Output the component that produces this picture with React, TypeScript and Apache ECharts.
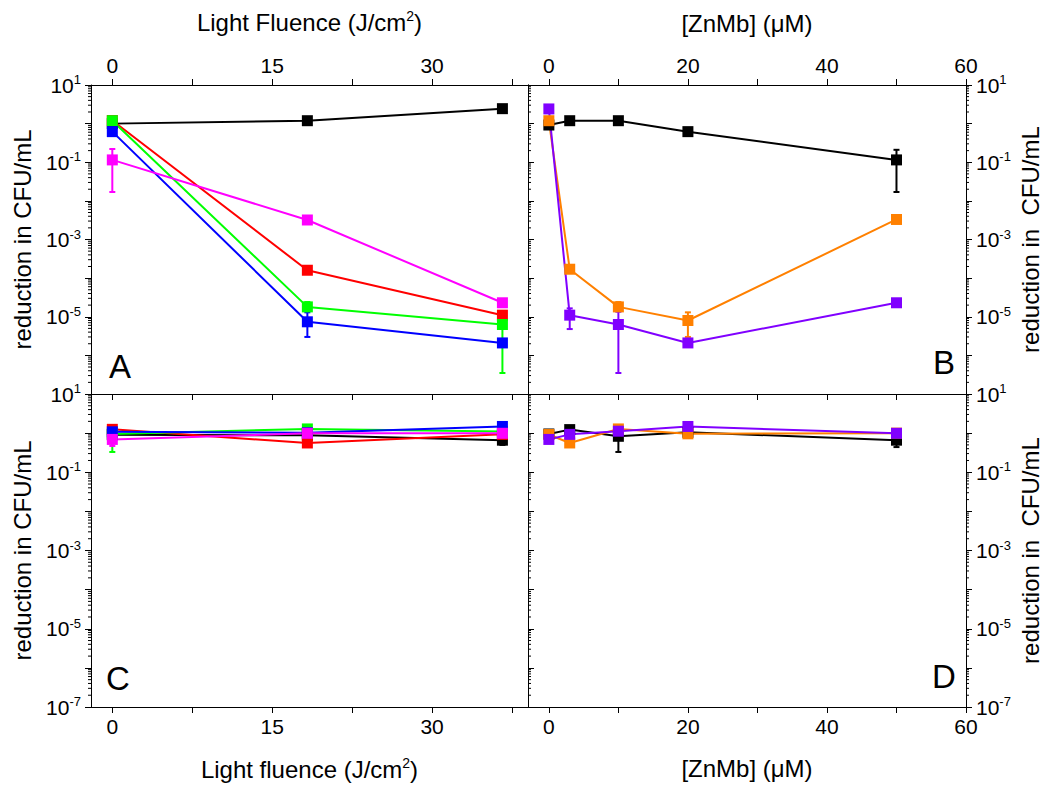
import React, { useEffect, useRef } from "react";
import * as echarts from "echarts";

const FONT = "'Liberation Sans', Arial, sans-serif";

// ---- x values / ticks ----
const fluence = [0, 18.3, 36.6];
const fluenceTicks = [0, 7.5, 15, 22.5, 30, 37.5];
const fluenceLabels = [0, 15, 30];
const conc = [0, 3, 10, 20, 50];
const concTicks = [0, 10, 20, 30, 40, 50, 60];
const concLabels = [0, 20, 40, 60];

// ---- Panel A (light fluence, with PS) ----
const aBlack = [1.0, 1.19, 2.44];
const aRed = [1.2, 1.6e-4, 1.1e-5];
const aGreen = [1.19, 1.8e-5, 6.3e-6];
const aBlue = [0.62, 7.4e-6, 2.1e-6];
const aMagenta = [0.115, 3.2e-3, 2.3e-5];
const aMagentaErr = [[0, 0.017, 0.22]];
const aGreenErr = [[18.3, 1.4e-5, 2.4e-5], [36.6, 3.5e-7, 1.3e-5]];
const aBlueErr = [[18.3, 3e-6, 1.3e-5]];

// ---- Panel B ([ZnMb], light) ----
const bBlack = [0.92, 1.19, 1.19, 0.62, 0.115];
const bOrange = [1.19, 1.7e-4, 1.8e-5, 8e-6, 3.3e-3];
const bPurple = [2.4, 1.1e-5, 6.3e-6, 2.1e-6, 2.3e-5];
const bBlackErr = [[0, 0.75, 1.1], [50, 0.017, 0.21]];
const bOrangeErr = [[10, 1.4e-5, 2.4e-5], [20, 3e-6, 1.3e-5]];
const bPurpleErr = [[3, 4.8e-6, 1.65e-5], [10, 3.5e-7, 1.35e-5]];

// ---- Panel C (dark controls) ----
const cBlack = [0.91, 0.88, 0.66];
const cRed = [1.25, 0.56, 0.93];
const cGreen = [0.95, 1.28, 1.1];
const cBlue = [1.08, 1.02, 1.48];
const cMagenta = [0.69, 0.99, 0.99];
const cBlackErr = [[36.6, 0.5, 0.8]];
const cGreenErr = [[0, 0.33, 1.2]];
const cMagentaErr = [[0, 0.47, 0.9]];

// ---- Panel D (dark controls) ----
const dBlack = [0.95, 1.23, 0.83, 1.05, 0.66];
const dOrange = [0.92, 0.56, 1.28, 0.96, 1.0];
const dPurple = [0.69, 0.93, 1.12, 1.48, 0.99];
const dBlackErr = [[10, 0.33, 1.0], [50, 0.44, 0.8]];

const BLACK = "#000000";
const RED = "#ff0000";
const GREEN = "#00ff00";
const BLUE = "#0000ff";
const MAGENTA = "#ff00ff";
const ORANGE = "#ff8000";
const PURPLE = "#8000ff";

const minorVals: number[] = [];
for (let e = -7; e <= 0; e++) {
  for (let m = 2; m <= 9; m++) minorVals.push(m * Math.pow(10, e));
}

const grids = [
  { left: 91, top: 85, width: 437, height: 309 },
  { left: 528, top: 85, width: 438, height: 309 },
  { left: 91, top: 394, width: 437, height: 313 },
  { left: 528, top: 394, width: 438, height: 313 },
];

const xRanges = [
  [-2, 39],
  [-3, 60],
  [-2, 39],
  [-3, 60],
];

const LABEL_SIZE = 21;
const NAME_SIZE = 24;

const supRich = {
  s: { fontSize: 14, fontFamily: FONT, color: "#000", padding: [0, 0, 12, 0] },
};

function xAxis(
  gridIndex: number,
  position: string,
  kind: "fl" | "zn",
  mode: "full" | "ticks" | "line",
  name?: string,
  nameGap?: number
) {
  const [min, max] = xRanges[gridIndex];
  return {
    type: "value",
    gridIndex,
    position,
    min,
    max,
    axisLine: { show: true, onZero: false, lineStyle: { color: "#000", width: 1 } },
    axisTick: {
      show: mode !== "line",
      inside: false,
      length: 6,
      customValues: kind === "fl" ? fluenceTicks : concTicks,
      lineStyle: { color: "#000", width: 1 },
    },
    axisLabel: {
      show: mode === "full",
      customValues: kind === "fl" ? fluenceLabels : concLabels,
      fontSize: LABEL_SIZE,
      fontFamily: FONT,
      color: "#000",
      margin: 9,
    },
    splitLine: { show: false },
    name: name || "",
    nameLocation: "middle",
    nameGap: nameGap || 0,
    nameTextStyle: { fontSize: NAME_SIZE, fontFamily: FONT, color: "#000", rich: supRich },
  };
}

function yAxis(
  gridIndex: number,
  position: string,
  mode: "full" | "ticks" | "line",
  hideBottom: boolean,
  name?: string,
  nameGap?: number
) {
  return {
    type: "log",
    logBase: 10,
    gridIndex,
    position,
    min: 1e-7,
    max: 10,
    splitNumber: 8,
    axisLine: { show: true, onZero: false, lineStyle: { color: "#000", width: 1 } },
    axisTick: { show: mode !== "line", inside: false, length: 6, lineStyle: { color: "#000", width: 1 } },
    axisLabel: {
      show: mode === "full",
      margin: 10,
      fontSize: LABEL_SIZE,
      fontFamily: FONT,
      color: "#000",
      formatter: (v: number) => {
        const e = Math.round(Math.log10(v));
        if (e % 2 === 0) return "";
        if (hideBottom && e === -7) return "";
        return `{b|10}{s|${e}}`;
      },
      rich: {
        b: { fontSize: LABEL_SIZE, fontFamily: FONT, color: "#000" },
        s: { fontSize: 13, fontFamily: FONT, color: "#000", padding: [0, 0, 11, 0] },
      },
    },
    splitLine: { show: false },
    name: name || "",
    nameLocation: "middle",
    nameRotate: 90,
    nameGap: nameGap || 0,
    nameTextStyle: { fontSize: NAME_SIZE, fontFamily: FONT, color: "#000" },
  };
}

function lineSeries(xs: number[], ys: number[], color: string, xi: number, yi: number) {
  return {
    type: "line",
    xAxisIndex: xi,
    yAxisIndex: yi,
    data: xs.map((x, i) => [x, ys[i]]),
    symbol: "rect",
    symbolSize: 11,
    itemStyle: { color },
    lineStyle: { color, width: 2 },
    silent: true,
    z: 3,
  };
}

function errSeries(err: number[][], color: string, xi: number, yi: number) {
  return {
    type: "custom",
    xAxisIndex: xi,
    yAxisIndex: yi,
    data: err,
    encode: { x: 0, y: [1, 2] },
    silent: true,
    z: 3,
    renderItem: (_p: any, api: any) => {
      const x = api.value(0);
      const lo = api.coord([x, api.value(1)]);
      const hi = api.coord([x, api.value(2)]);
      const w = 3;
      const st = { stroke: color, lineWidth: 2 };
      return {
        type: "group",
        children: [
          { type: "line", shape: { x1: lo[0], y1: lo[1], x2: hi[0], y2: hi[1] }, style: st },
          { type: "line", shape: { x1: lo[0] - w, y1: lo[1], x2: lo[0] + w, y2: lo[1] }, style: st },
          { type: "line", shape: { x1: hi[0] - w, y1: hi[1], x2: hi[0] + w, y2: hi[1] }, style: st },
        ],
      };
    },
  };
}

function minorTickSeries(g: number, xi: number, yi: number, leftOut: boolean, rightOut: boolean) {
  const [min, max] = xRanges[g];
  return {
    type: "custom",
    xAxisIndex: xi,
    yAxisIndex: yi,
    data: minorVals.map((v) => [min, v]),
    encode: { x: 0, y: 1 },
    silent: true,
    clip: false,
    z: 1,
    renderItem: (_p: any, api: any) => {
      const v = api.value(1);
      const pl = api.coord([min, v]);
      const pr = api.coord([max, v]);
      const st = { stroke: "#000", lineWidth: 1 };
      const ch: any[] = [];
      if (leftOut) ch.push({ type: "line", shape: { x1: pl[0] - 3, y1: pl[1], x2: pl[0], y2: pl[1] }, style: st });
      if (rightOut) ch.push({ type: "line", shape: { x1: pr[0], y1: pr[1], x2: pr[0] + 3, y2: pr[1] }, style: st });
      return { type: "group", children: ch };
    },
  };
}

function letter(text: string, x: number, y: number) {
  return {
    type: "text",
    x,
    y,
    silent: true,
    style: {
      text,
      fontSize: 33,
      fontFamily: FONT,
      fill: "#000",
      align: "left",
      verticalAlign: "middle",
    },
  };
}

export default function App() {
  const ref = useRef<HTMLDivElement>(null);
  useEffect(() => {
    if (!ref.current) return;
    const chart = echarts.init(ref.current, undefined, { renderer: "svg" });
    const option: any = {
      animation: false,
      backgroundColor: "#ffffff",
      grid: grids.map((g) => ({ ...g, containLabel: false })),
      xAxis: [
        xAxis(0, "top", "fl", "full", "Light Fluence (J/cm{s|2})", 50),
        xAxis(0, "bottom", "fl", "ticks"),
        xAxis(1, "top", "zn", "full", "[ZnMb] (μM)", 50),
        xAxis(1, "bottom", "zn", "ticks"),
        xAxis(2, "bottom", "fl", "full", "Light fluence (J/cm{s|2})", 49),
        xAxis(2, "top", "fl", "line"),
        xAxis(3, "bottom", "zn", "full", "[ZnMb] (μM)", 49),
        xAxis(3, "top", "zn", "line"),
      ],
      yAxis: [
        yAxis(0, "left", "full", true, "reduction in CFU/mL", 57),
        yAxis(0, "right", "ticks", true),
        yAxis(1, "right", "full", true, "reduction in  CFU/mL", 52),
        yAxis(1, "left", "line", true),
        yAxis(2, "left", "full", false, "reduction in CFU/mL", 57),
        yAxis(2, "right", "ticks", false),
        yAxis(3, "right", "full", false, "reduction in  CFU/mL", 52),
        yAxis(3, "left", "line", false),
      ],
      series: [
        minorTickSeries(0, 0, 0, true, true),
        minorTickSeries(1, 2, 2, false, true),
        minorTickSeries(2, 4, 4, true, true),
        minorTickSeries(3, 6, 6, false, true),

        // Panel A
        lineSeries(fluence, aBlack, BLACK, 0, 0),
        lineSeries(fluence, aRed, RED, 0, 0),
        errSeries(aGreenErr, GREEN, 0, 0),
        lineSeries(fluence, aGreen, GREEN, 0, 0),
        errSeries(aBlueErr, BLUE, 0, 0),
        lineSeries(fluence, aBlue, BLUE, 0, 0),
        errSeries(aMagentaErr, MAGENTA, 0, 0),
        lineSeries(fluence, aMagenta, MAGENTA, 0, 0),

        // Panel B
        errSeries(bBlackErr, BLACK, 2, 2),
        lineSeries(conc, bBlack, BLACK, 2, 2),
        errSeries(bOrangeErr, ORANGE, 2, 2),
        lineSeries(conc, bOrange, ORANGE, 2, 2),
        errSeries(bPurpleErr, PURPLE, 2, 2),
        lineSeries(conc, bPurple, PURPLE, 2, 2),

        // Panel C
        errSeries(cBlackErr, BLACK, 4, 4),
        lineSeries(fluence, cBlack, BLACK, 4, 4),
        lineSeries(fluence, cRed, RED, 4, 4),
        errSeries(cGreenErr, GREEN, 4, 4),
        lineSeries(fluence, cGreen, GREEN, 4, 4),
        lineSeries(fluence, cBlue, BLUE, 4, 4),
        errSeries(cMagentaErr, MAGENTA, 4, 4),
        lineSeries(fluence, cMagenta, MAGENTA, 4, 4),

        // Panel D
        errSeries(dBlackErr, BLACK, 6, 6),
        lineSeries(conc, dBlack, BLACK, 6, 6),
        lineSeries(conc, dOrange, ORANGE, 6, 6),
        lineSeries(conc, dPurple, PURPLE, 6, 6),
      ],
      graphic: [
        letter("A", 109, 366),
        letter("B", 933, 362),
        letter("C", 106, 678),
        letter("D", 932, 676),
      ],
    };
    chart.setOption(option);
    return () => chart.dispose();
  }, []);
  return (
    <div
      ref={ref}
      style={{ position: "absolute", left: 0, top: 0, width: 1050, height: 789, background: "#fff" }}
    />
  );
}
